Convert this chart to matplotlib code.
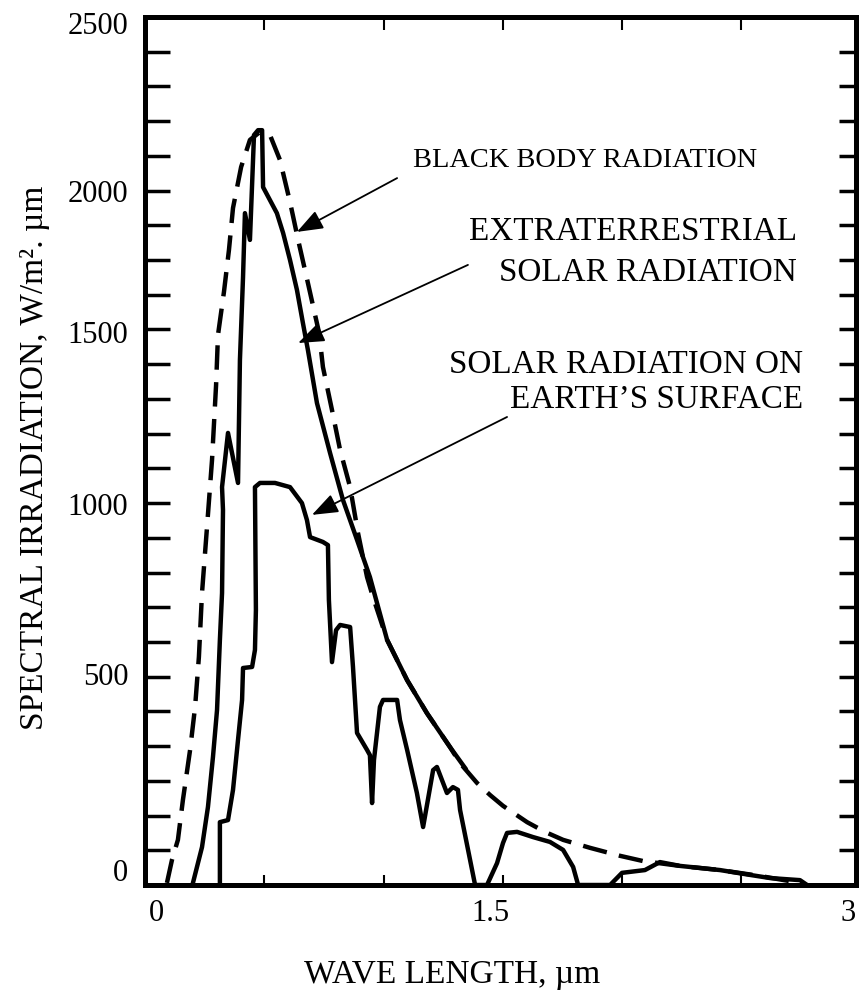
import matplotlib
matplotlib.use("Agg")
import matplotlib.pyplot as plt
import numpy as np

plt.rcParams['font.family'] = ['Liberation Serif', 'DejaVu Serif']

# black body radiation (dashed), wavelength in um, irradiation in W/m2.um
bb_wl = [0.092, 0.113, 0.138, 0.159, 0.189, 0.210, 0.226, 0.239, 0.260, 0.281,
         0.298, 0.306, 0.331, 0.352, 0.369, 0.403, 0.440, 0.482, 0.524, 0.566,
         0.608, 0.642, 0.683, 0.730, 0.746, 0.784, 0.818, 0.860, 0.893, 0.931,
         0.956, 1.015, 1.099, 1.182, 1.279, 1.321, 1.392, 1.447, 1.501, 1.602,
         1.677, 1.753, 1.866, 1.992, 2.088, 2.243, 2.411, 2.579, 2.746]
bb_irr = [6, 72, 130, 245, 389, 513, 657, 841, 1031, 1224,
          1440, 1584, 1708, 1829, 1950, 2068, 2146, 2169, 2160, 2088,
          1967, 1858, 1734, 1590, 1492, 1368, 1253, 1146, 1014, 887,
          829, 706, 590, 495, 397, 351, 294, 259, 228, 181,
          153, 130, 107, 84, 69, 55, 43, 26, 6]

# extraterrestrial solar radiation
et_wl = [0.201, 0.239, 0.264, 0.285, 0.302, 0.314, 0.323, 0.327, 0.323, 0.348,
         0.390, 0.398, 0.411, 0.419, 0.440, 0.457, 0.474, 0.491, 0.495, 0.553,
         0.579, 0.608, 0.637, 0.662, 0.683, 0.721, 0.776, 0.830, 0.889, 0.943,
         1.015, 1.099, 1.182, 1.279, 1.342]
et_irr = [6, 109, 225, 369, 504, 706, 841, 1080, 1146, 1302,
          1158, 1512, 1751, 1935, 1858, 2160, 2174, 2174, 2010, 1935,
          1878, 1800, 1714, 1619, 1541, 1388, 1244, 1109, 994, 887,
          706, 590, 495, 397, 337]

# solar radiation on earth's surface
sfc_wl = [0.314, 0.314, 0.348, 0.369, 0.390, 0.407, 0.411, 0.449, 0.461, 0.465,
          0.461, 0.482, 0.545, 0.608, 0.658, 0.679, 0.692, 0.746, 0.767, 0.771,
          0.784, 0.801, 0.818, 0.860, 0.872, 0.889, 0.931, 0.943, 0.952, 0.960,
          0.985, 0.998, 1.057, 1.069, 1.099, 1.140, 1.166, 1.208, 1.224, 1.266,
          1.291, 1.312, 1.321, 1.363, 1.384, 1.434, 1.476, 1.501, 1.518, 1.560,
          1.627, 1.698, 1.753, 1.795, 1.816, 1.950, 2.000, 2.096, 2.159, 2.243,
          2.411, 2.537, 2.621, 2.746, 2.776]
sfc_irr = [0, 181, 187, 274, 418, 533, 625, 628, 677, 792,
           1146, 1158, 1158, 1146, 1100, 1051, 1002, 988, 979, 821,
           642, 734, 749, 743, 628, 438, 389, 374, 236, 360,
           513, 533, 533, 475, 389, 265, 167, 331, 340, 265,
           282, 274, 216, 72, 0, 0, 63, 121, 150, 153,
           138, 124, 101, 52, 0, 0, 35, 43, 66, 55,
           43, 29, 20, 14, 0]

# tick labels, placed where the source figure prints them
xlab_pos = [0.05, 1.447, 2.948]
xlab_txt = ['0', '1.5', '3']
ylab_pos = [43, 608, 1097, 1593, 1999, 2483]
ylab_txt = ['0', '500', '1000', '1500', '2000', '2500']
xminor = [0.5, 1.0, 1.5, 2.0, 2.5]
yminor = list(range(100, 2500, 100))

fig = plt.figure(figsize=(8.61, 9.9), dpi=100)
ax = fig.add_axes([145/861, 1 - 885/990, 711/861, 868/990])

ax.plot(bb_wl, bb_irr, color='black', lw=3.2, linestyle=(0, (5.5, 2.8)))
ax.plot(et_wl, et_irr, color='black', lw=3.2, solid_joinstyle='round')
ax.plot(sfc_wl, sfc_irr, color='black', lw=3.2, solid_joinstyle='round')

ax.set_xlim(0, 2.981)
ax.set_ylim(0, 2500)
for s in ax.spines.values():
    s.set_linewidth(3.6)

ax.set_xticks(xlab_pos, labels=xlab_txt)
ax.set_xticks(xminor, minor=True)
ax.set_yticks(ylab_pos, labels=ylab_txt)
ax.set_yticks(yminor, minor=True)
ax.tick_params(which='major', length=0, labelsize=22)
ax.tick_params(axis='x', which='major', pad=10)
ax.tick_params(axis='y', which='major', pad=12)
ax.tick_params(axis='x', which='minor', direction='in', length=7, width=1.5)
ax.tick_params(axis='y', which='minor', direction='in', length=18, width=2.5)

top = ax.secondary_xaxis('top')
top.set_xticks(xminor, labels=[])
top.tick_params(direction='in', length=9.5, width=1.5)
top.spines['top'].set_visible(False)

right = ax.secondary_yaxis('right')
right.set_yticks(yminor, labels=[])
right.tick_params(direction='in', length=12, width=2.5)
right.spines['right'].set_visible(False)

ax.set_xlabel('WAVE LENGTH, \u00b5m', fontsize=24)
ax.xaxis.set_label_coords(0.432, -0.086)
ax.set_ylabel('SPECTRAL IRRADIATION, W/m\u00b2. \u00b5m', fontsize=24)
ax.yaxis.set_label_coords(-0.134, 0.492)

ax.text(1.124, 2088, 'BLACK BODY RADIATION', fontsize=20.4, ha='left', va='center')
ax.text(2.734, 1881, 'EXTRATERRESTRIAL', fontsize=23.9, ha='right', va='center')
ax.text(2.734, 1763, 'SOLAR RADIATION', fontsize=23.9, ha='right', va='center')
ax.text(2.759, 1498, 'SOLAR RADIATION ON', fontsize=23.9, ha='right', va='center')
ax.text(2.759, 1397, 'EARTH\u2019S SURFACE', fontsize=23.9, ha='right', va='center')

arrow = dict(arrowstyle='-|>,head_length=0.8,head_width=0.3', lw=1.3,
             color='black', mutation_scale=20, shrinkA=0, shrinkB=0)
ax.annotate('', xy=(0.637, 1881), xytext=(1.057, 2036), arrowprops=arrow)
ax.annotate('', xy=(0.642, 1561), xytext=(1.354, 1786), arrowprops=arrow)
ax.annotate('', xy=(0.700, 1066), xytext=(1.518, 1348), arrowprops=arrow)

fig.savefig('out.png', dpi=100)
